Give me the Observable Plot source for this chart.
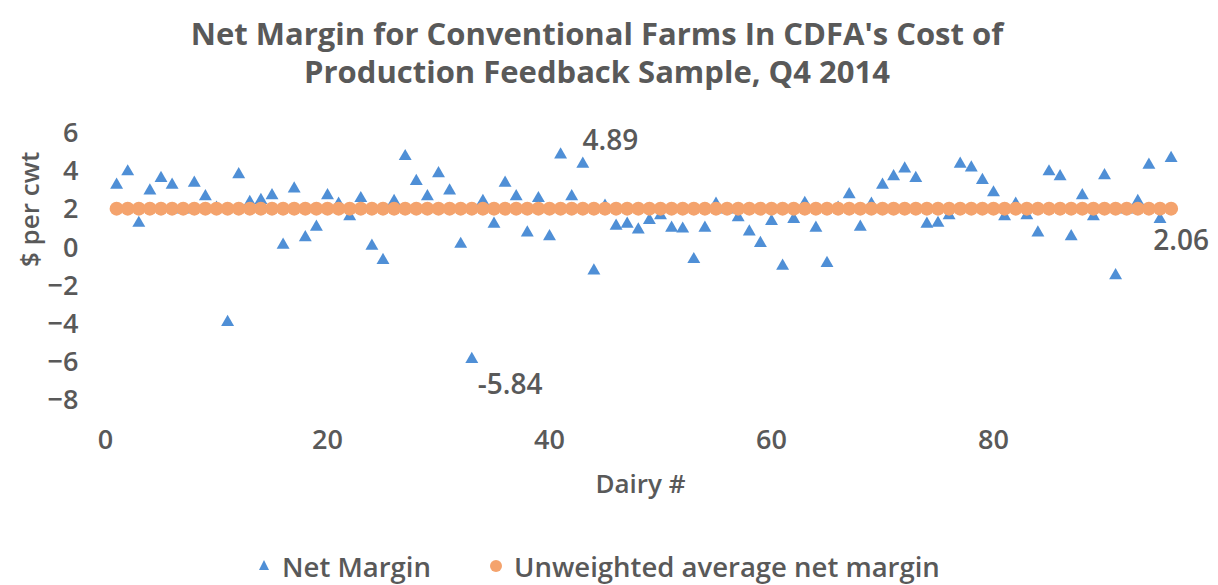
<!DOCTYPE html>
<html>
<head>
<meta charset="utf-8">
<script src="https://cdn.jsdelivr.net/npm/d3@7"></script>
<script src="https://cdn.jsdelivr.net/npm/@observablehq/plot@0.6"></script>
<style>
  html, body { margin: 0; padding: 0; background: #fff; }
  body { width: 1218px; height: 585px; position: relative; overflow: hidden; font-family: "Open Sans", sans-serif; color: #595959; }
  #title { position: absolute; left: 0; top: 14px; width: 1194px; text-align: center; font-size: 31px; font-weight: 700; line-height: 38px; color: #595959; }
  #chart { position: absolute; left: 0; top: 100px; }
  #legend { position: absolute; left: 0; top: 546px; width: 1218px; height: 40px; font-size: 27.5px; font-weight: 600; color: #595959; }
  .li { position: absolute; top: 0; display: flex; align-items: center; height: 40px; white-space: nowrap; }
</style>
</head>
<body>
<div id="title">Net Margin for Conventional Farms In CDFA's Cost of<br>Production Feedback Sample, Q4 2014</div>
<div id="chart"></div>
<div id="legend"></div>
<script>
// ---- data ----
const netMargin = [
  3.3, 4.0, 1.3, 3.0, 3.65, 3.3, 2.0, 3.4, 2.7, 2.1,
  -3.9, 3.85, 2.4, 2.5, 2.75, 0.15, 3.1, 0.55, 1.1, 2.75,
  2.3, 1.65, 2.6, 0.1, -0.65, 2.45, 4.8, 3.5, 2.7, 3.9,
  3.0, 0.2, -5.84, 2.45, 1.25, 3.4, 2.7, 0.8, 2.6, 0.6,
  4.89, 2.7, 4.4, -1.2, 2.2, 1.15, 1.25, 0.95, 1.45, 1.7,
  1.05, 1.0, -0.6, 1.05, 2.3, 2.0, 1.6, 0.85, 0.25, 1.4,
  -0.95, 1.5, 2.35, 1.05, -0.8, 2.1, 2.8, 1.1, 2.3, 3.3,
  3.75, 4.15, 3.65, 1.25, 1.3, 1.7, 4.4, 4.2, 3.55, 2.9,
  1.65, 2.3, 1.7, 0.8, 4.0, 3.75, 0.6, 2.75, 1.65, 3.8,
  -1.45, 2.0, 2.45, 4.35, 1.5, 4.7
];
const averageNetMargin = 2.06;
const yTicks = [-8, -6, -4, -2, 0, 2, 4, 6];
const xTicks = [0, 20, 40, 60, 80];
const seriesNames = ["Net Margin", "Unweighted average net margin"];
const colors = ["#4f8fd6", "#f4a36d"];
const callouts = [
  {dairy: 41, value: 4.89, text: "4.89"},
  {dairy: 33, value: -5.84, text: "-5.84"}
];

// ---- tables ----
const netRows = netMargin.map((v, i) => ({dairy: i + 1, value: v}));
const avgRows = netMargin.map((v, i) => ({dairy: i + 1, value: averageNetMargin}));
const lastAvg = avgRows[avgRows.length - 1];

const gray = "#595959";
const plot = Plot.plot({
  width: 1218,
  height: 420,
  marginLeft: 105,
  marginRight: 3,
  marginTop: 33,
  marginBottom: 120,
  style: {fontFamily: "Open Sans, sans-serif", color: gray, background: "transparent", overflow: "visible"},
  x: {domain: [0, 100]},
  y: {domain: [-8, 6]},
  marks: [
    Plot.axisY({ticks: yTicks, tickSize: 0, tickPadding: 27, fontSize: 27, fontWeight: 600, fill: gray, label: null}),
    Plot.axisX({ticks: xTicks, tickSize: 0, tickPadding: 29, fontSize: 27, fontWeight: 600, fill: gray, label: null}),
    Plot.dot(netRows, {x: "dairy", y: "value", symbol: "triangle", r: 4.8, fill: colors[0], stroke: "none"}),
    Plot.dot(avgRows, {x: "dairy", y: "value", r: 7, fill: colors[1], stroke: "none"}),
    Plot.text(callouts.filter(d => d.value > 0), {x: "dairy", y: "value", text: "text", textAnchor: "start", dx: 22, dy: -14, fontSize: 28, fontWeight: 600, fill: gray}),
    Plot.text(callouts.filter(d => d.value < 0), {x: "dairy", y: "value", text: "text", textAnchor: "start", dx: 6, dy: 26, fontSize: 28, fontWeight: 600, fill: gray}),
    Plot.text([lastAvg], {x: "dairy", y: "value", text: d => d.value.toFixed(2), textAnchor: "middle", dx: 10, dy: 32, fontSize: 28, fontWeight: 600, fill: gray}),
    Plot.text(["Dairy #"], {frameAnchor: "bottom", dx: -20, dy: 92, fontSize: 26, fontWeight: 600, fill: gray}),
    Plot.text(["$ per cwt"], {frameAnchor: "left", dx: -75, rotate: -90, fontSize: 26, fontWeight: 600, fill: gray})
  ]
});
document.getElementById("chart").appendChild(plot);

// ---- legend ----
const legend = document.getElementById("legend");
const items = [
  {left: 254, name: seriesNames[0], sym: `<svg width="20" height="20"><path d="M10,4 L15,14 L5,14 Z" fill="${colors[0]}"/></svg>`},
  {left: 486, name: seriesNames[1], sym: `<svg width="20" height="20"><circle cx="10" cy="10" r="6" fill="${colors[1]}"/></svg>`}
];
items.forEach(it => {
  const d = document.createElement("div");
  d.className = "li";
  d.style.left = it.left + "px";
  d.innerHTML = it.sym + `<span style="margin-left:8px">${it.name}</span>`;
  legend.appendChild(d);
});
</script>
</body>
</html>
